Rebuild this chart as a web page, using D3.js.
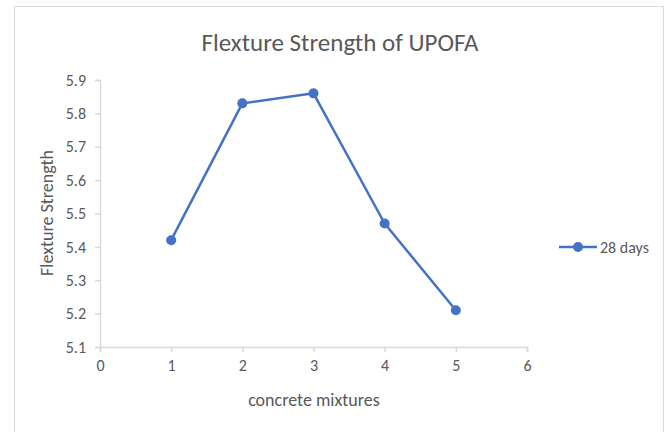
<!DOCTYPE html>
<html><head><meta charset="utf-8">
<script src="https://cdn.jsdelivr.net/npm/d3@7"></script>
<style>body{margin:0;background:#fff;} text{font-family:Carlito,Calibri,Lato,sans-serif;}</style>
</head><body><svg id="c" width="670" height="432"></svg>
<script>
const mixtures = [1, 2, 3, 4, 5];
const strength28 = [5.42, 5.83, 5.86, 5.47, 5.21];
const xTicks = [0, 1, 2, 3, 4, 5, 6];
const yTicks = [5.1, 5.2, 5.3, 5.4, 5.5, 5.6, 5.7, 5.8, 5.9];
const seriesName = "28 days";
const title = "Flexture Strength of UPOFA";

const svg = d3.select("#c");
svg.append("rect").attr("x",14.5).attr("y",6.5).attr("width",649).attr("height",440)
  .attr("fill","#fff").attr("stroke","#d9d9d9");

const x = d3.scaleLinear().domain([0,6]).range([100,527]);
const y = d3.scaleLinear().domain([5.1,5.9]).range([347,80]);
const grey = "#595959", axisCol = "#d9d9d9", blue = "#4472C4";
const ff = 'Carlito,Calibri,Lato,sans-serif';

const gx = svg.append("g").attr("transform","translate(0,347)")
  .call(d3.axisBottom(x).tickValues(xTicks).tickFormat(d3.format("d")).tickSize(5).tickPadding(8));
const gy = svg.append("g").attr("transform","translate(100,0)")
  .call(d3.axisLeft(y).tickValues(yTicks).tickFormat(d3.format(".1f")).tickSize(5).tickPadding(9));
[gx,gy].forEach(g=>{
  g.attr("font-size",16).attr("font-family",ff);
  g.selectAll("path,line").attr("stroke",axisCol).attr("stroke-width",1.5);
  g.selectAll("text").attr("fill",grey).style("font-size","16px").style("font-family",ff);
});

const pts = mixtures.map((m,i)=>[m,strength28[i]]);
svg.append("path").datum(pts)
  .attr("d", d3.line().x(d=>x(d[0])).y(d=>y(d[1])))
  .attr("fill","none").attr("stroke",blue).attr("stroke-width",2.5).attr("stroke-linejoin","round");
svg.selectAll("circle.pt").data(pts).join("circle").attr("class","pt")
  .attr("cx",d=>x(d[0])).attr("cy",d=>y(d[1])).attr("r",5).attr("fill",blue);

svg.append("text").attr("x",340).attr("y",51).attr("text-anchor","middle")
  .attr("fill",grey).attr("font-size",25).text(title);
svg.append("text").attr("x",314).attr("y",406).attr("text-anchor","middle")
  .attr("fill",grey).attr("font-size",18).text("concrete mixtures");
svg.append("text").attr("transform","translate(53,213) rotate(-90)").attr("text-anchor","middle")
  .attr("fill",grey).attr("font-size",18).attr("font-weight",500).text("Flexture Strength");

const lg = svg.append("g");
lg.append("line").attr("x1",559).attr("x2",597).attr("y1",247).attr("y2",247).attr("stroke",blue).attr("stroke-width",2.5);
lg.append("circle").attr("cx",578).attr("cy",247).attr("r",5).attr("fill",blue);
lg.append("text").attr("x",600).attr("y",253).attr("fill",grey).attr("font-size",16).text(seriesName);
</script></body></html>
